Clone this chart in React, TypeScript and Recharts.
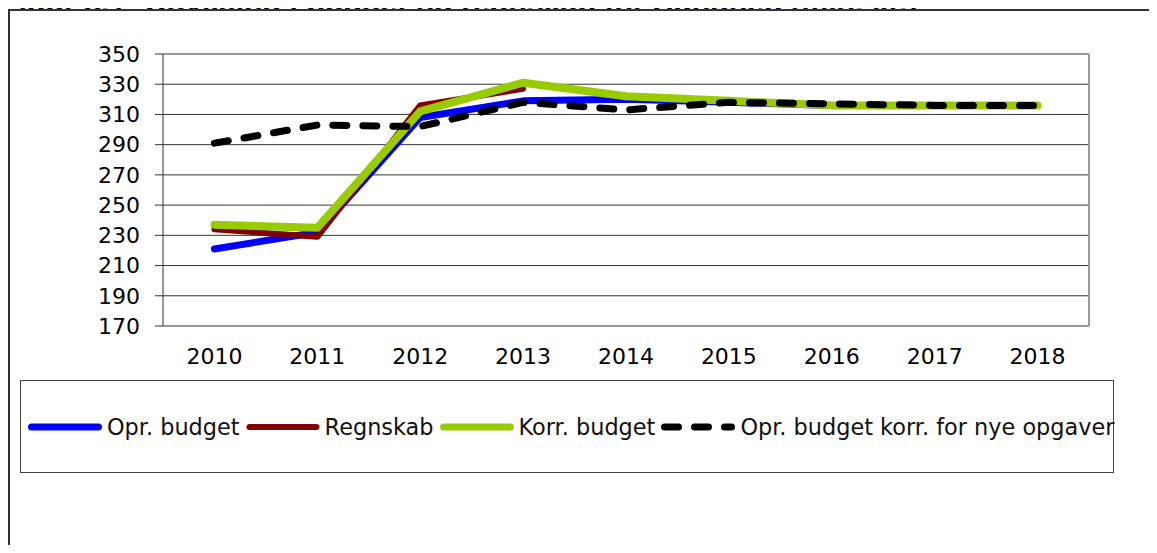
import React from 'react';
import {
  LineChart,
  Line,
  XAxis,
  YAxis,
  CartesianGrid,
  ReferenceLine,
  Legend,
} from 'recharts';

const years = ['2010', '2011', '2012', '2013', '2014', '2015', '2016', '2017', '2018'];
const oprBudget = [221, 232, 308, 319, 320, 318, 316, 316, 316];
const regnskab: (number | null)[] = [234, 229, 316, 327, null, null, null, null, null];
const korrBudget = [237, 235, 312, 331, 322, 319, 316, 316, 316];
const oprKorrNye = [291, 303, 302, 318, 313, 318, 317, 316, 316];

const yTicks = [170, 190, 210, 230, 250, 270, 290, 310, 330, 350];
const edgeTicks = [-0.5, 0.5, 1.5, 2.5, 3.5, 4.5, 5.5, 6.5, 7.5, 8.5];

const seriesNames = ['Opr. budget', 'Regnskab', 'Korr. budget', 'Opr. budget korr. for nye opgaver'];
const seriesKeys = ['opr', 'regn', 'korr', 'nye'];
const seriesColors = ['#0000FF', '#800000', '#99CC00', '#000000'];
const seriesWidths = [7, 6, 8, 7];
const seriesDash = [undefined, undefined, undefined, '14 16'];

const titleText = 'Figur 3.1: Udvikling i budget og regnskab for Sundhed (mio. kr.)';

const data = years.map((y, i) => ({
  year: y,
  idx: i,
  opr: oprBudget[i],
  regn: regnskab[i],
  korr: korrBudget[i],
  nye: oprKorrNye[i],
}));

const FONT = '"DejaVu Sans", Verdana, sans-serif';

const renderLegend = (props: any) => {
  const payload = [...(props.payload || [])].sort(
    (a: any, b: any) => seriesNames.indexOf(a.value) - seriesNames.indexOf(b.value)
  );
  return (
    <div
      style={{
        display: 'flex',
        flexDirection: 'row',
        alignItems: 'center',
        height: '100%',
        paddingLeft: 7,
        fontFamily: FONT,
        fontSize: 22.4,
        color: '#111',
        whiteSpace: 'nowrap',
      }}
    >
      {payload.map((entry: any, i: number) => {
        const idx = seriesNames.indexOf(entry.value);
        const k = idx >= 0 ? idx : i;
        const color = seriesColors[k];
        const w = seriesWidths[k];
        const dash = seriesDash[k];
        return (
          <div key={i} style={{ display: 'flex', alignItems: 'center', marginRight: 6 }}>
            <svg width={74} height={10} style={{ display: 'block' }}>
              <line
                x1={3.5}
                x2={70.5}
                y1={5}
                y2={5}
                stroke={color}
                strokeWidth={Math.min(w, 7)}
                strokeLinecap="round"
                strokeDasharray={dash}
              />
            </svg>
            <span style={{ marginLeft: 5 }}>{entry.value}</span>
          </div>
        );
      })}
    </div>
  );
};

export default function App() {
  return (
    <div
      style={{
        position: 'relative',
        width: 1157,
        height: 553,
        margin: -8,
        overflow: 'hidden',
        background: '#fff',
        fontFamily: FONT,
      }}
    >
      <div
        style={{
          position: 'absolute',
          left: 0,
          top: 0,
          width: 1157,
          height: 8.5,
          overflow: 'hidden',
          zIndex: 2,
        }}
      >
        <div
          style={{
            position: 'absolute',
            left: 0,
            top: -12.5,
            fontFamily: '"Liberation Sans", Arial, sans-serif',
            fontWeight: 'bold',
            fontSize: 30.3,
            lineHeight: '30px',
            whiteSpace: 'nowrap',
            color: '#000',
          }}
        >
          {titleText}
        </div>
      </div>
      <div
        style={{
          position: 'absolute',
          left: 8,
          top: 8.5,
          width: 1200,
          height: 600,
          borderLeft: '2px solid #333',
          borderTop: '2px solid #333',
          boxSizing: 'border-box',
          zIndex: 3,
        }}
      />
      <div style={{ position: 'absolute', left: 0, top: 0 }}>
        <LineChart
          width={1157}
          height={553}
          data={data}
          margin={{ top: 54, right: 68, bottom: 187, left: 0 }}
        >
          <CartesianGrid vertical={false} stroke="#333" strokeWidth={1} xAxisId="cat" />
          <XAxis
            xAxisId="edges"
            dataKey="idx"
            type="number"
            domain={[-0.5, 8.5]}
            ticks={edgeTicks}
            allowDataOverflow
            height={0}
            tick={false}
            tickSize={8}
            tickLine={{ stroke: '#333' }}
            axisLine={{ stroke: '#333' }}
          />
          <XAxis
            xAxisId="cat"
            dataKey="year"
            scale="band"
            height={40}
            tickLine={false}
            axisLine={false}
            tickSize={0}
            tickMargin={22}
            interval={0}
            tick={{ fill: '#000', fontSize: 22, fontFamily: FONT }}
          />
          <YAxis
            domain={[170, 350]}
            ticks={yTicks}
            width={163}
            tickSize={8}
            tickMargin={15}
            interval={0}
            tickLine={{ stroke: '#333' }}
            axisLine={{ stroke: '#333' }}
            tick={{ fill: '#000', fontSize: 22, fontFamily: FONT }}
          />
          <ReferenceLine y={350} xAxisId="cat" stroke="#999" strokeWidth={2} />
          <ReferenceLine x={8.5} xAxisId="edges" stroke="#999" strokeWidth={2} />
          {seriesKeys.map((k, i) => (
            <Line
              key={k}
              xAxisId="cat"
              type="linear"
              dataKey={k}
              name={seriesNames[i]}
              stroke={seriesColors[i]}
              strokeWidth={seriesWidths[i]}
              strokeDasharray={seriesDash[i]}
              strokeLinecap="round"
              strokeLinejoin="round"
              dot={false}
              activeDot={false}
              isAnimationActive={false}
            />
          ))}
          <Legend
            layout="horizontal"
            verticalAlign="middle"
            align="center"
            content={renderLegend}
            wrapperStyle={{
              left: 20,
              top: 380,
              width: 1094,
              height: 93,
              border: '1.5px solid #444',
              boxSizing: 'border-box',
            }}
          />
        </LineChart>
      </div>
    </div>
  );
}
